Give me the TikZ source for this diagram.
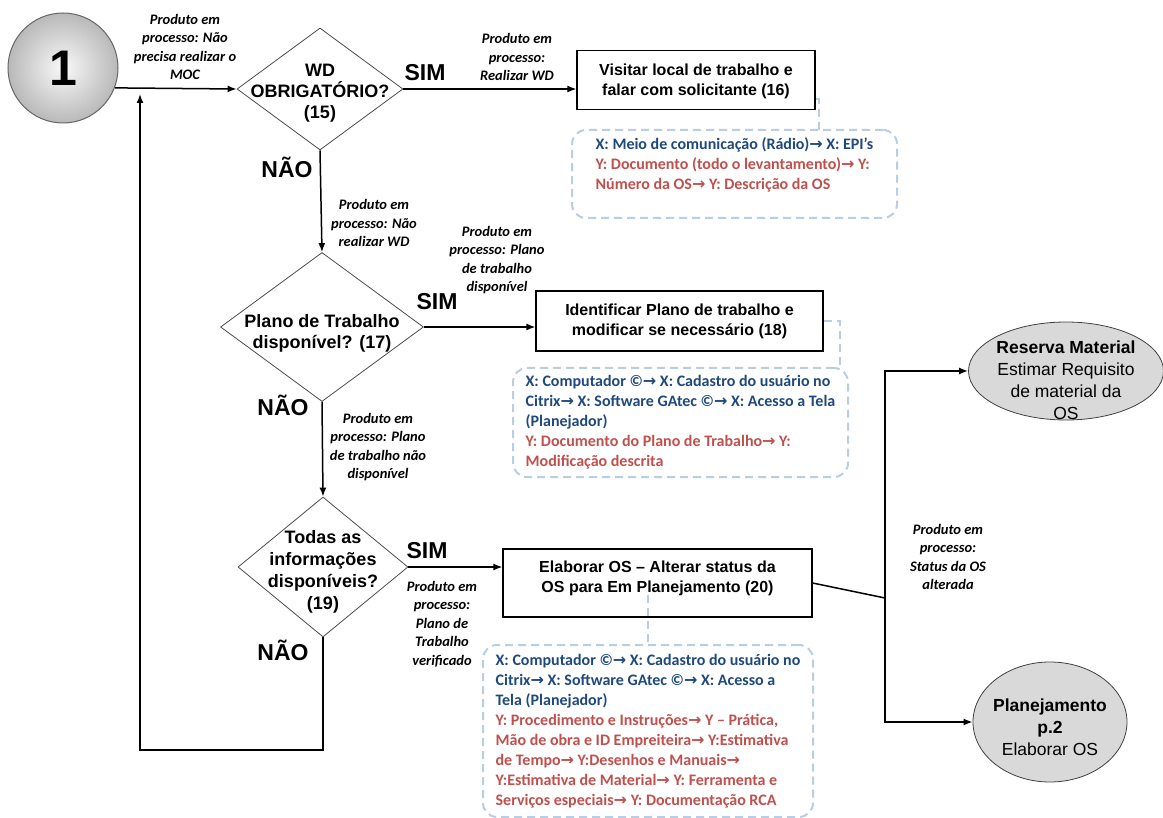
\documentclass[tikz,border=0pt]{standalone}
\usepackage{fontspec}
\setmainfont{Liberation Sans}
\newfontfamily\calibri{Carlito}
\newfontfamily\symfont{DejaVu Sans}
\usetikzlibrary{shapes.geometric,arrows.meta}
\definecolor{xblue}{RGB}{31,73,125}
\definecolor{yred}{RGB}{192,80,77}
\definecolor{dashblue}{RGB}{185,205,229}
\definecolor{ovalgray}{RGB}{217,217,217}
\newcommand{\nxt}{{\symfont\bfseries →}}

\begin{document}
\begin{tikzpicture}[x=1pt,y=-1pt,
  flow/.style={line width=1.5pt,-{Latex[length=9pt,width=7pt]}},
  plain/.style={line width=1.5pt},
  link/.style={dashblue,line width=2pt,dash pattern=on 8pt off 5pt},
  onpage/.style={circle,draw=black!60,line width=1pt,shading=radial,inner color=gray!5,outer color=gray!55,minimum size=110,font=\fontsize{50}{50}\selectfont\bfseries},
  decision/.style={diamond,draw=black!70,line width=0.8pt,inner sep=0pt},
  dtext/.style={align=center,font=\fontsize{18}{21}\selectfont\bfseries},
  process/.style={rectangle,draw,line width=1.2pt,align=center,font=\fontsize{16}{20}\selectfont\bfseries},
  resource/.style={rectangle,rounded corners=14pt,draw=dashblue,line width=2pt,dash pattern=on 8pt off 5pt,align=left,font=\calibri\fontsize{16}{20}\selectfont\bfseries},
  answer/.style={font=\fontsize{23}{26}\selectfont\bfseries},
  wip/.style={align=center,font=\calibri\fontsize{14.5}{18.5}\selectfont\bfseries\itshape},
  terminal/.style={ellipse,draw=black!75,line width=0.8pt,fill=ovalgray,inner sep=0pt},
  ttext/.style={align=center,font=\fontsize{17.5}{22}\selectfont}]
\useasboundingbox (0,0) rectangle (1163,818);

\node[onpage] (start) at (63,68) {1};

\node[decision,minimum width=166,minimum height=122] (d15) at (320,89) {};
\node[dtext] (d15t) at (320,93) {WD\\OBRIGATÓRIO?\\(15)};
\node[decision,minimum width=203,minimum height=149] (d17) at (322,327) {};
\node[dtext] (d17t) at (322,333) {Plano de Trabalho\\disponível? (17)};
\node[decision,minimum width=170,minimum height=140] (d19) at (323,567) {};
\node[dtext,font=\fontsize{18}{22}\selectfont\bfseries] (d19t) at (323,572) {Todas as\\informações\\disponíveis?\\(19)};

\node[process,minimum width=238,minimum height=59] (p16) at (696,80) {\mbox{}\\[-6pt]Visitar local de trabalho e\\falar com solicitante (16)};
\node[process,minimum width=287,minimum height=60] (p18) at (679.5,321) {Identificar Plano de trabalho e\\modificar se necessário (18)};
\node[process,minimum width=309,minimum height=68] (p20) at (657.5,583) {Elaborar OS – Alterar status da\\OS para Em Planejamento (20)\\[-8pt]\mbox{}};

\node[resource,minimum width=325,minimum height=88] (r16) at (734.5,174) {\textcolor{xblue}{X: Meio de comunicação (Rádio)\nxt{} X: EPI’s}\\
\textcolor{yred}{Y: Documento (todo o levantamento)\nxt{} Y:}\\
\textcolor{yred}{Número da OS\nxt{} Y: Descrição da OS}\\
\mbox{}};
\node[resource,minimum width=335,minimum height=109] (r18) at (680.5,422.5) {\textcolor{xblue}{X: Computador ©\nxt{} X: Cadastro do usuário no}\\
\textcolor{xblue}{Citrix\nxt{} X: Software GAtec ©\nxt{} X: Acesso a Tela}\\
\textcolor{xblue}{(Planejador)}\\
\textcolor{yred}{Y: Documento do Plano de Trabalho\nxt{} Y:}\\
\textcolor{yred}{Modificação descrita}};
\node[resource,minimum width=330,minimum height=172] (r20) at (648,731) {\textcolor{xblue}{X: Computador ©\nxt{} X: Cadastro do usuário no}\\
\textcolor{xblue}{Citrix\nxt{} X: Software GAtec ©\nxt{} X: Acesso a}\\
\textcolor{xblue}{Tela (Planejador)}\\
\textcolor{yred}{Y: Procedimento e Instruções\nxt{} Y – Prática,}\\
\textcolor{yred}{Mão de obra e ID Empreiteira\nxt{} Y:Estimativa}\\
\textcolor{yred}{de Tempo\nxt{} Y:Desenhos e Manuais\nxt}\\
\textcolor{yred}{Y:Estimativa de Material\nxt{} Y: Ferramenta e}\\
\textcolor{yred}{Serviços especiais\nxt{} Y: Documentação RCA}};

\node[terminal,minimum width=195,minimum height=98] (resmat) at (1066,371) {};
\node[ttext] (resmatt) at (1066,380) {\textbf{Reserva Material}\\Estimar Requisito\\de material da\\OS};
\node[terminal,minimum width=154,minimum height=120] (plan2) at (1050,722) {};
\node[ttext] (plan2t) at (1050,727) {\textbf{Planejamento}\\\textbf{p.2}\\Elaborar OS};

\node[answer] (sim15) at (425,73) {SIM};
\node[answer] (nao15) at (287,167) {NÃO};
\node[answer] (sim17) at (437,302) {SIM};
\node[answer] (nao17) at (283,405) {NÃO};
\node[answer] (sim19) at (427,551) {SIM};
\node[answer] (nao19) at (283,650) {NÃO};

\node[wip] (wMOC) at (185,47) {Produto em\\processo: Não\\precisa realizar o\\MOC};
\node[wip] (wWD) at (517,57) {Produto em\\processo:\\Realizar WD};
\node[wip] (wNoWD) at (374,223) {Produto em\\processo: Não\\realizar WD};
\node[wip] (wPlano) at (497,260) {Produto em\\processo: Plano\\de trabalho\\disponível};
\node[wip] (wNoPlano) at (378,447) {Produto em\\processo: Plano\\de trabalho não\\disponível};
\node[wip] (wVerif) at (442,624) {Produto em\\processo:\\Plano de\\Trabalho\\verificado};
\node[wip] (wStatus) at (948,557) {Produto em\\processo:\\Status da OS\\alterada};

\coordinate (loopbot) at (140,750);
\coordinate (loopin) at (140,94);
\coordinate (split) at (885,598);
\coordinate (k16) at (819,130);
\coordinate (k18) at (840,369);
\coordinate (k20) at (648,595);

\draw[flow] (start.-21) -- (d15.west);
\draw[flow] (d15.east) -- (d15.east -| p16.west);
\draw[flow] (d15.south) -- (d17.north);
\draw[flow] (d17.east) -- (d17.east -| p18.west);
\draw[flow] (d17.south) -- (d19.north);
\draw[flow] (d19.east) -- (d19.east -| p20.west);
\draw[flow] (d19.south) |- (loopbot) -- (loopin);
\draw[plain] (p20.east) -- (split);
\draw[flow] (split) |- (resmat.west);
\draw[flow] (split) |- (plan2.west);

\draw[link] ([yshift=-19pt]p16.east) -| (k16);
\draw[link] (p18.east) -| (k18);
\draw[link] (k20) -- (r20.north);
\end{tikzpicture}
\end{document}
